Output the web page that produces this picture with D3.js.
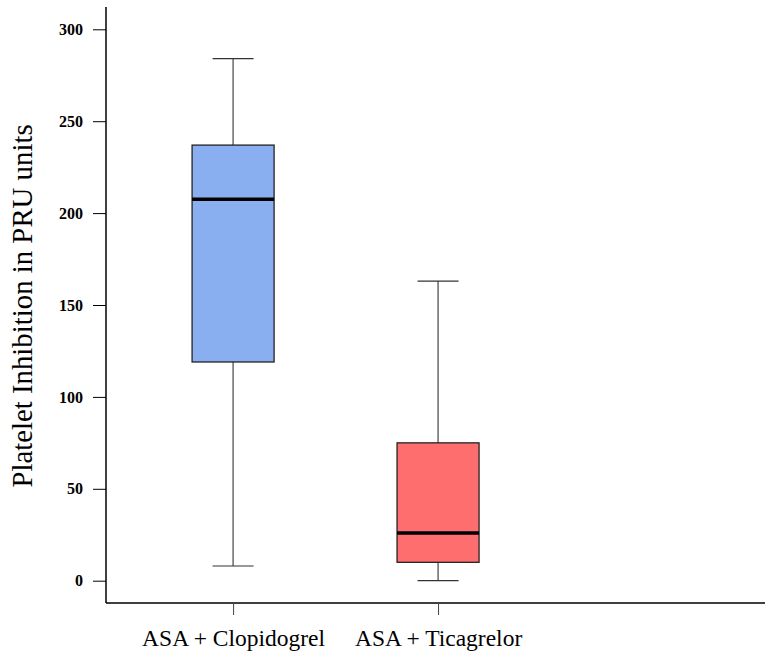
<!DOCTYPE html>
<html>
<head>
<meta charset="utf-8">
<script src="https://cdn.jsdelivr.net/npm/d3@7"></script>
<style>
  body { margin: 0; background: #fff; }
  text { font-family: "Liberation Serif", "DejaVu Serif", serif; }
</style>
</head>
<body>
<svg width="765" height="652"></svg>
<script>
// Box plot data (PRU units)
const groups = ["ASA + Clopidogrel", "ASA + Ticagrelor"];
const whiskerLow = [8, 0];
const q1 = [119, 10];
const median = [207.5, 26];
const q3 = [237, 75];
const whiskerHigh = [284, 163];
const fills = ["#8aaff0", "#ff6e6e"];
const yTicks = [0, 50, 100, 150, 200, 250, 300];

const svg = d3.select("svg");

// scales
const y = d3.scaleLinear().domain([0, 300]).range([580.7, 29.3]);
const x = d3.scaleLinear().domain([0.38, 3.595]).range([106, 765]);
const boxW = 82;

// axes
const yAxis = d3.axisLeft(y).tickValues(yTicks).tickSize(13).tickPadding(10);
const gy = svg.append("g").attr("transform", "translate(106,0)").call(yAxis);
gy.select(".domain").remove();
gy.selectAll("text").attr("font-size", 16).attr("font-weight", "bold");

svg.append("line")
    .attr("x1", 106).attr("x2", 106)
    .attr("y1", 7).attr("y2", 603)
    .attr("stroke", "#000").attr("stroke-width", 1.5);
svg.append("line")
    .attr("x1", 106).attr("x2", 765)
    .attr("y1", 603).attr("y2", 603)
    .attr("stroke", "#000").attr("stroke-width", 1.5);

const xAxis = d3.axisBottom(x).tickValues([1, 2])
    .tickFormat(d => groups[d - 1]).tickSize(12).tickPadding(14);
const gx = svg.append("g").attr("transform", "translate(0,603)").call(xAxis);
gx.select(".domain").remove();
gx.selectAll("line").attr("stroke", "#444");
gx.selectAll("text").attr("font-size", 23.5);

// y label
svg.append("text")
    .attr("transform", "translate(32,306) rotate(-90)")
    .attr("text-anchor", "middle")
    .attr("font-size", 28.8)
    .text("Platelet Inhibition in PRU units");

// boxes
const idx = groups.map((g, i) => i);
const box = svg.append("g").selectAll("g").data(idx).join("g");

// whiskers
box.append("line")
    .attr("x1", i => x(i + 1)).attr("x2", i => x(i + 1))
    .attr("y1", i => y(whiskerLow[i])).attr("y2", i => y(whiskerHigh[i]))
    .attr("stroke", "#444").attr("stroke-width", 1.2);
box.append("line")
    .attr("x1", i => x(i + 1) - boxW / 4).attr("x2", i => x(i + 1) + boxW / 4)
    .attr("y1", i => y(whiskerHigh[i])).attr("y2", i => y(whiskerHigh[i]))
    .attr("stroke", "#333").attr("stroke-width", 1.2);
box.append("line")
    .attr("x1", i => x(i + 1) - boxW / 4).attr("x2", i => x(i + 1) + boxW / 4)
    .attr("y1", i => y(whiskerLow[i])).attr("y2", i => y(whiskerLow[i]))
    .attr("stroke", "#333").attr("stroke-width", 1.2);

// boxes
box.append("rect")
    .attr("x", i => x(i + 1) - boxW / 2)
    .attr("width", boxW)
    .attr("y", i => y(q3[i]))
    .attr("height", i => y(q1[i]) - y(q3[i]))
    .attr("fill", i => fills[i])
    .attr("stroke", "#222").attr("stroke-width", 1.3);

// medians
box.append("line")
    .attr("x1", i => x(i + 1) - boxW / 2).attr("x2", i => x(i + 1) + boxW / 2)
    .attr("y1", i => y(median[i])).attr("y2", i => y(median[i]))
    .attr("stroke", "#000").attr("stroke-width", 3.5);
</script>
</body>
</html>
